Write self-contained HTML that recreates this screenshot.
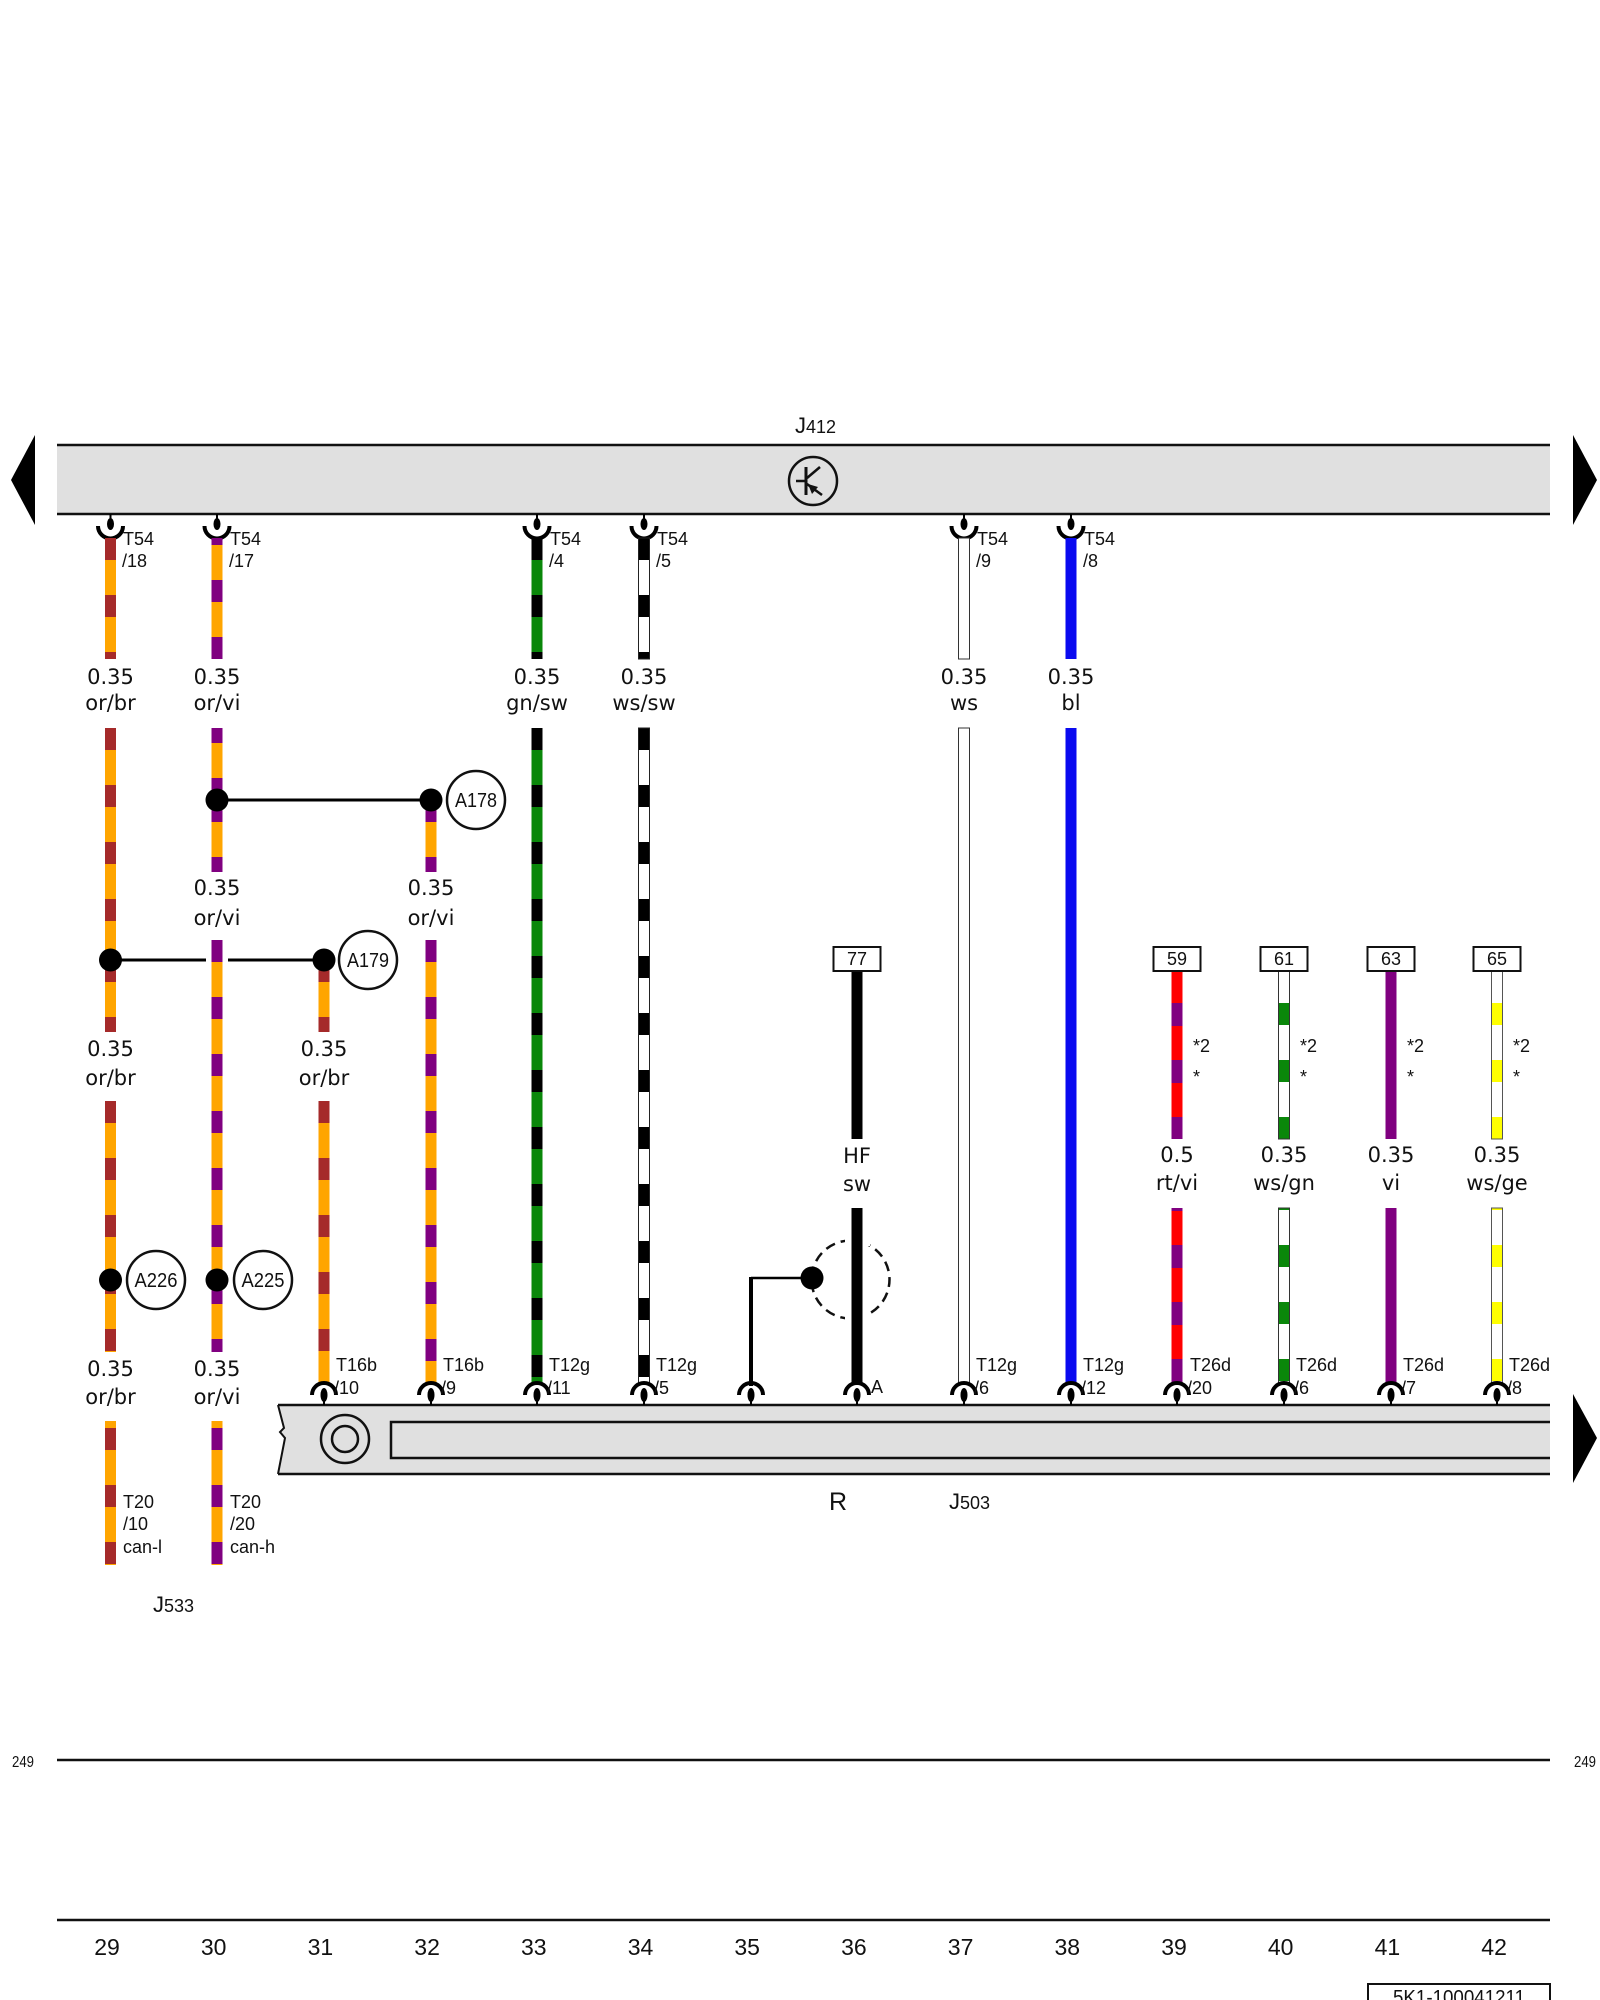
<!DOCTYPE html>
<html>
<head>
<meta charset="utf-8">
<style>
  html, body { margin: 0; padding: 0; background: #fff; }
  svg { display: block; }
  .t { font-family: "Liberation Sans", Arial, sans-serif; fill: #111; }
  .g { font-family: "DejaVu Sans", "Liberation Sans", sans-serif; font-size: 21px; fill: #111; text-anchor: middle; }
</style>
</head>
<body>
<svg width="1600" height="2000" viewBox="0 0 1600 2000" xmlns="http://www.w3.org/2000/svg">
<defs>
  <pattern id="bo" patternUnits="userSpaceOnUse" width="20" height="57"><rect width="20" height="57" fill="#ffa500"/><rect width="20" height="22" fill="#a52a2a"/></pattern>
  <pattern id="vo" patternUnits="userSpaceOnUse" width="20" height="57"><rect width="20" height="57" fill="#ffa500"/><rect width="20" height="22" fill="#800080"/></pattern>
  <pattern id="kg" patternUnits="userSpaceOnUse" width="20" height="57"><rect width="20" height="57" fill="#0a870a"/><rect width="20" height="22" fill="#000"/></pattern>
  <pattern id="kw" patternUnits="userSpaceOnUse" width="20" height="57"><rect width="20" height="57" fill="#fff"/><rect width="20" height="22" fill="#000"/></pattern>
  <pattern id="vr" patternUnits="userSpaceOnUse" width="20" height="57"><rect width="20" height="57" fill="#ff0000"/><rect width="20" height="23" fill="#800080"/></pattern>
  <pattern id="gw" patternUnits="userSpaceOnUse" width="20" height="57"><rect width="20" height="57" fill="#fff"/><rect width="20" height="22" fill="#0a870a"/></pattern>
  <pattern id="yw" patternUnits="userSpaceOnUse" width="20" height="57"><rect width="20" height="57" fill="#fff"/><rect width="20" height="22" fill="#ffff00"/></pattern>
</defs>
<rect width="1600" height="2000" fill="#fff"/>

<!-- ===== Top bar J412 ===== -->
<rect x="57" y="445" width="1493" height="69" fill="#e0e0e0"/>
<line x1="57" y1="445" x2="1550" y2="445" stroke="#111" stroke-width="2.5"/>
<line x1="57" y1="514" x2="1550" y2="514" stroke="#111" stroke-width="2.5"/>
<polygon points="35,435 35,525 11,480" fill="#000"/>
<polygon points="1573,435 1573,525 1597,480" fill="#000"/>
<text class="t" x="795" y="433"><tspan font-size="22">J</tspan><tspan font-size="18">412</tspan></text>
<circle cx="813" cy="481" r="24" fill="none" stroke="#111" stroke-width="2.5"/>
<line x1="806" y1="467" x2="806" y2="495" stroke="#111" stroke-width="3"/>
<line x1="796" y1="481" x2="806" y2="481" stroke="#111" stroke-width="2.5"/>
<line x1="807" y1="478" x2="820" y2="467" stroke="#111" stroke-width="2.5"/>
<line x1="807" y1="484" x2="822" y2="495" stroke="#111" stroke-width="2.5"/>
<polygon points="808,484 818,487 812,494" fill="#111"/>

<!-- top connectors -->
<g fill="none" stroke="#000" stroke-width="4">
  <path d="M98 526 A12.5 12.5 0 0 0 123 526"/>
  <path d="M204.5 526 A12.5 12.5 0 0 0 229.5 526"/>
  <path d="M524.5 526 A12.5 12.5 0 0 0 549.5 526"/>
  <path d="M631.5 526 A12.5 12.5 0 0 0 656.5 526"/>
  <path d="M951.5 526 A12.5 12.5 0 0 0 976.5 526"/>
  <path d="M1058.5 526 A12.5 12.5 0 0 0 1083.5 526"/>
</g>
<g fill="#000">
  <rect x="109.5" y="514" width="2" height="8"/><ellipse cx="110.5" cy="524" rx="3.5" ry="6"/>
  <rect x="216" y="514" width="2" height="8"/><ellipse cx="217" cy="524" rx="3.5" ry="6"/>
  <rect x="536" y="514" width="2" height="8"/><ellipse cx="537" cy="524" rx="3.5" ry="6"/>
  <rect x="643" y="514" width="2" height="8"/><ellipse cx="644" cy="524" rx="3.5" ry="6"/>
  <rect x="963" y="514" width="2" height="8"/><ellipse cx="964" cy="524" rx="3.5" ry="6"/>
  <rect x="1070" y="514" width="2" height="8"/><ellipse cx="1071" cy="524" rx="3.5" ry="6"/>
</g>
<g class="t" font-size="18">
  <text x="123" y="545">T54</text><text x="122" y="567">/18</text>
  <text x="230" y="545">T54</text><text x="229" y="567">/17</text>
  <text x="550" y="545">T54</text><text x="549" y="567">/4</text>
  <text x="657" y="545">T54</text><text x="656" y="567">/5</text>
  <text x="977" y="545">T54</text><text x="976" y="567">/9</text>
  <text x="1084" y="545">T54</text><text x="1083" y="567">/8</text>
</g>

<!-- junction lines (behind wires) -->
<line x1="217" y1="800" x2="431" y2="800" stroke="#000" stroke-width="3"/>
<line x1="110.5" y1="960" x2="206" y2="960" stroke="#000" stroke-width="3"/>
<line x1="228" y1="960" x2="324" y2="960" stroke="#000" stroke-width="3"/>

<!-- ===== Wires ===== -->
<!-- 29 or/br -->
<g transform="translate(0,538)"><rect x="105" y="0" width="11" height="121" fill="url(#bo)"/></g>
<g transform="translate(0,728)"><rect x="105" y="0" width="11" height="232" fill="url(#bo)"/></g>
<g transform="translate(0,960)"><rect x="105" y="0" width="11" height="72" fill="url(#bo)"/></g>
<g transform="translate(0,1101)"><rect x="105" y="0" width="11" height="251" fill="url(#bo)"/></g>
<g transform="translate(0,1371)"><rect x="105" y="50" width="11" height="144" fill="url(#bo)"/></g>
<!-- 30 or/vi -->
<g transform="translate(0,523)"><rect x="211.5" y="15" width="11" height="121" fill="url(#vo)"/></g>
<g transform="translate(0,721)"><rect x="211.5" y="7" width="11" height="72" fill="url(#vo)"/></g>
<g transform="translate(0,800)"><rect x="211.5" y="0" width="11" height="72" fill="url(#vo)"/></g>
<g transform="translate(0,940)"><rect x="211.5" y="0" width="11" height="412" fill="url(#vo)"/></g>
<g transform="translate(0,1371)"><rect x="211.5" y="50" width="11" height="144" fill="url(#vo)"/></g>
<!-- 31 or/br -->
<g transform="translate(0,960)"><rect x="318.5" y="0" width="11" height="72" fill="url(#bo)"/></g>
<g transform="translate(0,1101)"><rect x="318.5" y="0" width="11" height="282" fill="url(#bo)"/></g>
<!-- 32 or/vi -->
<g transform="translate(0,800)"><rect x="425.5" y="0" width="11" height="72" fill="url(#vo)"/></g>
<g transform="translate(0,940)"><rect x="425.5" y="0" width="11" height="443" fill="url(#vo)"/></g>
<!-- 33 gn/sw -->
<g transform="translate(0,538)"><rect x="531.5" y="0" width="11" height="121" fill="url(#kg)"/></g>
<g transform="translate(0,728)"><rect x="531.5" y="0" width="11" height="655" fill="url(#kg)"/></g>
<!-- 34 ws/sw -->
<g transform="translate(0,538)"><rect x="638.5" y="0" width="11" height="121" fill="url(#kw)" stroke="#222" stroke-width="1"/></g>
<g transform="translate(0,728)"><rect x="638.5" y="0" width="11" height="655" fill="url(#kw)" stroke="#222" stroke-width="1"/></g>
<!-- 36 HF sw -->
<path d="M850.5,1240.5 A39,39 0 0 0 850.5,1318.5 A39,39 0 0 0 850.5,1240.5" fill="none" stroke="#111" stroke-width="2.5" stroke-dasharray="10 6"/>
<rect x="845" y="1234" width="25" height="12" fill="#fff"/>
<rect x="845" y="1313" width="25" height="12" fill="#fff"/>
<rect x="851.5" y="971" width="11" height="168" fill="#000"/>
<rect x="851.5" y="1208" width="11" height="175" fill="#000"/>
<!-- 35 -->
<line x1="812" y1="1278" x2="751" y2="1278" stroke="#000" stroke-width="2.5"/>
<line x1="751" y1="1277" x2="751" y2="1386" stroke="#000" stroke-width="4"/>
<circle cx="812" cy="1278" r="11.5" fill="#000"/>
<!-- 37 ws -->
<rect x="958.5" y="538" width="11" height="121" fill="#fff" stroke="#333" stroke-width="1"/>
<rect x="958.5" y="728" width="11" height="655" fill="#fff" stroke="#333" stroke-width="1"/>
<!-- 38 bl -->
<rect x="1065.5" y="538" width="11" height="121" fill="#0a0af0"/>
<rect x="1065.5" y="728" width="11" height="655" fill="#0a0af0"/>
<!-- 39 rt/vi -->
<g transform="translate(0,946)"><rect x="1171.5" y="25" width="11" height="168" fill="url(#vr)"/></g>
<g transform="translate(0,1188)"><rect x="1171.5" y="20" width="11" height="175" fill="url(#vr)"/></g>
<!-- 40 ws/gn -->
<g transform="translate(0,946)"><rect x="1278.5" y="25" width="11" height="168" fill="url(#gw)" stroke="#333" stroke-width="1"/></g>
<g transform="translate(0,1188)"><rect x="1278.5" y="20" width="11" height="175" fill="url(#gw)" stroke="#333" stroke-width="1"/></g>
<!-- 41 vi -->
<rect x="1385.5" y="971" width="11" height="168" fill="#800080"/>
<rect x="1385.5" y="1208" width="11" height="175" fill="#800080"/>
<!-- 42 ws/ge -->
<g transform="translate(0,946)"><rect x="1491.5" y="25" width="11" height="168" fill="url(#yw)" stroke="#555" stroke-width="1"/></g>
<g transform="translate(0,1188)"><rect x="1491.5" y="20" width="11" height="175" fill="url(#yw)" stroke="#555" stroke-width="1"/></g>

<!-- boxes -->
<g fill="#fff" stroke="#111" stroke-width="2">
  <rect x="833.5" y="947" width="47" height="24"/>
  <rect x="1153.5" y="947" width="47" height="24"/>
  <rect x="1260.5" y="947" width="47" height="24"/>
  <rect x="1367.5" y="947" width="47" height="24"/>
  <rect x="1473.5" y="947" width="47" height="24"/>
</g>
<g class="t" font-size="18" text-anchor="middle">
  <text x="857" y="965">77</text>
  <text x="1177" y="965">59</text>
  <text x="1284" y="965">61</text>
  <text x="1391" y="965">63</text>
  <text x="1497" y="965">65</text>
</g>
<g class="t" font-size="18">
  <text x="1193" y="1052">*2</text><text x="1193" y="1083">*</text>
  <text x="1300" y="1052">*2</text><text x="1300" y="1083">*</text>
  <text x="1407" y="1052">*2</text><text x="1407" y="1083">*</text>
  <text x="1513" y="1052">*2</text><text x="1513" y="1083">*</text>
</g>

<!-- junction dots -->
<g fill="#000">
  <circle cx="217" cy="800" r="11.5"/>
  <circle cx="431" cy="800" r="11.5"/>
  <circle cx="110.5" cy="960" r="11.5"/>
  <circle cx="324" cy="960" r="11.5"/>
  <circle cx="110.5" cy="1280" r="11.5"/>
  <circle cx="217" cy="1280" r="11.5"/>
</g>
<g fill="#fff" stroke="#111" stroke-width="2.5">
  <circle cx="476" cy="800" r="29"/>
  <circle cx="368" cy="960" r="29"/>
  <circle cx="156" cy="1280" r="29"/>
  <circle cx="263" cy="1280" r="29"/>
</g>
<g class="t" font-size="20" text-anchor="middle">
  <text x="476" y="807" textLength="42" lengthAdjust="spacingAndGlyphs">A178</text>
  <text x="368" y="967" textLength="42" lengthAdjust="spacingAndGlyphs">A179</text>
  <text x="156" y="1287" textLength="43" lengthAdjust="spacingAndGlyphs">A226</text>
  <text x="263" y="1287" textLength="43" lengthAdjust="spacingAndGlyphs">A225</text>
</g>

<!-- wire labels -->
<g class="g">
  <text x="110.5" y="684">0.35</text><text x="110.5" y="710">or/br</text>
  <text x="217" y="684">0.35</text><text x="217" y="710">or/vi</text>
  <text x="537" y="684">0.35</text><text x="537" y="710">gn/sw</text>
  <text x="644" y="684">0.35</text><text x="644" y="710">ws/sw</text>
  <text x="964" y="684">0.35</text><text x="964" y="710">ws</text>
  <text x="1071" y="684">0.35</text><text x="1071" y="710">bl</text>

  <text x="217" y="895">0.35</text><text x="217" y="925">or/vi</text>
  <text x="431" y="895">0.35</text><text x="431" y="925">or/vi</text>

  <text x="110.5" y="1056">0.35</text><text x="110.5" y="1085">or/br</text>
  <text x="324" y="1056">0.35</text><text x="324" y="1085">or/br</text>

  <text x="110.5" y="1376">0.35</text><text x="110.5" y="1404">or/br</text>
  <text x="217" y="1376">0.35</text><text x="217" y="1404">or/vi</text>

  <text x="857" y="1163">HF</text><text x="857" y="1191">sw</text>

  <text x="1177" y="1162">0.5</text><text x="1177" y="1190">rt/vi</text>
  <text x="1284" y="1162">0.35</text><text x="1284" y="1190">ws/gn</text>
  <text x="1391" y="1162">0.35</text><text x="1391" y="1190">vi</text>
  <text x="1497" y="1162">0.35</text><text x="1497" y="1190">ws/ge</text>
</g>

<!-- T20 labels -->
<g class="t" font-size="18">
  <text x="123" y="1508">T20</text><text x="123" y="1530">/10</text><text x="123" y="1553">can-l</text>
  <text x="230" y="1508">T20</text><text x="230" y="1530">/20</text><text x="230" y="1553">can-h</text>
</g>
<text class="t" x="153" y="1612"><tspan font-size="22">J</tspan><tspan font-size="18">533</tspan></text>

<!-- ===== Bottom bar J503 ===== -->
<polygon points="278,1405 1550,1405 1550,1474 278,1474 285,1438 280,1432 284,1428" fill="#e0e0e0"/>
<line x1="278" y1="1405" x2="1550" y2="1405" stroke="#111" stroke-width="2.5"/>
<line x1="278" y1="1474" x2="1550" y2="1474" stroke="#111" stroke-width="2.5"/>
<polyline points="278,1405 284,1428 280,1432 285,1438 278,1474" fill="none" stroke="#111" stroke-width="2"/>
<circle cx="345" cy="1439" r="24" fill="none" stroke="#111" stroke-width="2.5"/>
<circle cx="345" cy="1439" r="13" fill="none" stroke="#111" stroke-width="2.5"/>
<polyline points="1550,1422 391,1422 391,1458 1550,1458" fill="none" stroke="#111" stroke-width="2.5"/>
<polygon points="1573,1394 1573,1483 1597,1438" fill="#000"/>
<text class="t" x="829" y="1510" font-size="25">R</text>
<text class="t" x="949" y="1509"><tspan font-size="22">J</tspan><tspan font-size="18">503</tspan></text>

<!-- bottom connectors -->
<g fill="none" stroke="#000" stroke-width="4">
  <path d="M312 1395 A12 12 0 0 1 336 1395"/>
  <path d="M419 1395 A12 12 0 0 1 443 1395"/>
  <path d="M525 1395 A12 12 0 0 1 549 1395"/>
  <path d="M632 1395 A12 12 0 0 1 656 1395"/>
  <path d="M739 1395 A12 12 0 0 1 763 1395"/>
  <path d="M845 1395 A12 12 0 0 1 869 1395"/>
  <path d="M952 1395 A12 12 0 0 1 976 1395"/>
  <path d="M1059 1395 A12 12 0 0 1 1083 1395"/>
  <path d="M1165 1395 A12 12 0 0 1 1189 1395"/>
  <path d="M1272 1395 A12 12 0 0 1 1296 1395"/>
  <path d="M1379 1395 A12 12 0 0 1 1403 1395"/>
  <path d="M1485 1395 A12 12 0 0 1 1509 1395"/>
</g>
<g fill="#000">
  <ellipse cx="324" cy="1395" rx="3.5" ry="7"/><rect x="323" y="1398" width="2" height="7"/>
  <ellipse cx="431" cy="1395" rx="3.5" ry="7"/><rect x="430" y="1398" width="2" height="7"/>
  <ellipse cx="537" cy="1395" rx="3.5" ry="7"/><rect x="536" y="1398" width="2" height="7"/>
  <ellipse cx="644" cy="1395" rx="3.5" ry="7"/><rect x="643" y="1398" width="2" height="7"/>
  <ellipse cx="751" cy="1395" rx="3.5" ry="7"/><rect x="750" y="1398" width="2" height="7"/>
  <ellipse cx="857" cy="1395" rx="3.5" ry="7"/><rect x="856" y="1398" width="2" height="7"/>
  <ellipse cx="964" cy="1395" rx="3.5" ry="7"/><rect x="963" y="1398" width="2" height="7"/>
  <ellipse cx="1071" cy="1395" rx="3.5" ry="7"/><rect x="1070" y="1398" width="2" height="7"/>
  <ellipse cx="1177" cy="1395" rx="3.5" ry="7"/><rect x="1176" y="1398" width="2" height="7"/>
  <ellipse cx="1284" cy="1395" rx="3.5" ry="7"/><rect x="1283" y="1398" width="2" height="7"/>
  <ellipse cx="1391" cy="1395" rx="3.5" ry="7"/><rect x="1390" y="1398" width="2" height="7"/>
  <ellipse cx="1497" cy="1395" rx="3.5" ry="7"/><rect x="1496" y="1398" width="2" height="7"/>
</g>
<g class="t" font-size="18">
  <text x="336" y="1371">T16b</text><text x="334" y="1394">/10</text>
  <text x="443" y="1371">T16b</text><text x="441" y="1394">/9</text>
  <text x="549" y="1371">T12g</text><text x="547" y="1394">/11</text>
  <text x="656" y="1371">T12g</text><text x="654" y="1394">/5</text>
  <text x="871" y="1393">A</text>
  <text x="976" y="1371">T12g</text><text x="974" y="1394">/6</text>
  <text x="1083" y="1371">T12g</text><text x="1081" y="1394">/12</text>
  <text x="1190" y="1371">T26d</text><text x="1187" y="1394">/20</text>
  <text x="1296" y="1371">T26d</text><text x="1294" y="1394">/6</text>
  <text x="1403" y="1371">T26d</text><text x="1401" y="1394">/7</text>
  <text x="1509" y="1371">T26d</text><text x="1507" y="1394">/8</text>
</g>

<!-- ===== Footer ===== -->
<line x1="57" y1="1760" x2="1550" y2="1760" stroke="#111" stroke-width="2.5"/>
<text class="t" x="12" y="1767" font-size="16" textLength="22" lengthAdjust="spacingAndGlyphs">249</text>
<text class="t" x="1574" y="1767" font-size="16" textLength="22" lengthAdjust="spacingAndGlyphs">249</text>
<line x1="57" y1="1920" x2="1550" y2="1920" stroke="#111" stroke-width="2.5"/>
<g class="t" font-size="23" text-anchor="middle">
  <text x="107" y="1955">29</text>
  <text x="213.7" y="1955">30</text>
  <text x="320.4" y="1955">31</text>
  <text x="427.1" y="1955">32</text>
  <text x="533.8" y="1955">33</text>
  <text x="640.5" y="1955">34</text>
  <text x="747.2" y="1955">35</text>
  <text x="853.9" y="1955">36</text>
  <text x="960.6" y="1955">37</text>
  <text x="1067.3" y="1955">38</text>
  <text x="1174" y="1955">39</text>
  <text x="1280.7" y="1955">40</text>
  <text x="1387.4" y="1955">41</text>
  <text x="1494.1" y="1955">42</text>
</g>
<rect x="1368" y="1984" width="182" height="30" fill="#fff" stroke="#111" stroke-width="2"/>
<text class="t" x="1459" y="2004" font-size="20" text-anchor="middle" textLength="132" lengthAdjust="spacingAndGlyphs">5K1-100041211</text>
</svg>
</body>
</html>
